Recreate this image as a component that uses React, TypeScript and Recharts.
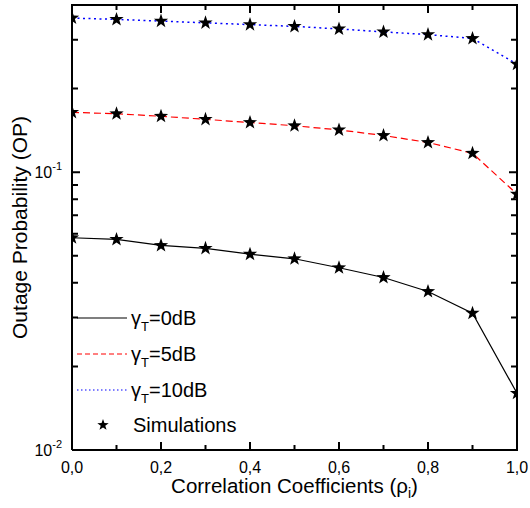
import React from "react";
import { ComposedChart, Line, XAxis, YAxis, Legend } from "recharts";

// correlation coefficient rho_i
const rho = [0, 0.1, 0.2, 0.3, 0.4, 0.5, 0.6, 0.7, 0.8, 0.9, 1.0];

// outage probability per threshold gamma_T
const op0dB = [0.0581, 0.0573, 0.0545, 0.0532, 0.0507, 0.0488, 0.0453, 0.0418, 0.0372, 0.0311, 0.016];
const op5dB = [0.1643, 0.1624, 0.159, 0.155, 0.151, 0.147, 0.142, 0.1356, 0.128, 0.117, 0.0834];
const op10dB = [0.359, 0.355, 0.35, 0.345, 0.34, 0.335, 0.328, 0.32, 0.313, 0.303, 0.245];

const xTicks = [0, 0.1, 0.2, 0.3, 0.4, 0.5, 0.6, 0.7, 0.8, 0.9, 1.0];
const yTicks = [0.01, 0.02, 0.03, 0.04, 0.05, 0.06, 0.07, 0.08, 0.09, 0.1, 0.2, 0.3];
const yMajor = [0.01, 0.1];
const X_MAX = 1;
const Y_MIN = 0.01;
const Y_MAX = 0.4;

const data = rho.map((r, i) => ({ rho: r, a: op0dB[i], b: op5dB[i], c: op10dB[i] }));

// layout
const W = 530;
const H = 508;
const MARGIN = { top: 5, right: 13, bottom: 0, left: 0 };
const Y_AXIS_W = 72;
const X_AXIS_H = 58;
const PLOT_W = W - MARGIN.left - MARGIN.right - Y_AXIS_W;
const PLOT_H = H - MARGIN.top - MARGIN.bottom - X_AXIS_H;

const FONT = '"Liberation Sans", Arial, sans-serif';

const isMajorX = (v: number) => Math.round(v * 10) % 2 === 0;
const isMajorY = (v: number) => yMajor.some((m) => Math.abs(m - v) < 1e-9);
const near = (a: number, b: number) => Math.abs(a - b) < 1e-9;
const fmtX = (v: number) => v.toFixed(1).replace(".", ",");

const seg = (x1: number, y1: number, x2: number, y2: number) => `M${x1},${y1}L${x2},${y2}`;

function starPath(cx: number, cy: number, R: number, r: number) {
  let d = "";
  for (let k = 0; k < 10; k++) {
    const rad = k % 2 === 0 ? R : r;
    const a = -Math.PI / 2 + (k * Math.PI) / 5;
    d += (k === 0 ? "M" : "L") + (cx + rad * Math.cos(a)).toFixed(2) + "," + (cy + rad * Math.sin(a)).toFixed(2);
  }
  return d + "Z";
}

const Star = (props: any) => {
  const { cx, cy } = props;
  if (cx == null || cy == null) return null;
  return <path d={starPath(cx, cy, 7.5, 3)} fill="#000" stroke="none" />;
};

// bottom ticks also draw the mirrored top ticks and, at x max, the right edge of the frame
const BottomTick = (props: any) => {
  const x = Number(props.x);
  const y = Number(props.y);
  const v = props.payload.value;
  const len = isMajorX(v) ? 8 : 5;
  const top = y - PLOT_H;
  let d = seg(x, y, x, y - len) + seg(x, top, x, top + len);
  if (near(v, X_MAX)) d += seg(x, y + 1, x, top - 1);
  return (
    <g>
      <path d={d} stroke="#000" strokeWidth={2} fill="none" />
      {isMajorX(v) && (
        <text x={x} y={y + 23} textAnchor="middle" fontSize={16} fontFamily={FONT} fill="#000">
          {fmtX(v)}
        </text>
      )}
    </g>
  );
};

// left ticks also draw the mirrored right ticks and, at y max, the top edge of the frame
const LeftTick = (props: any) => {
  const x = Number(props.x);
  const y = Number(props.y);
  const v = props.payload.value;
  if (near(v, Y_MAX)) {
    return <path d={seg(x - 1, y, x + PLOT_W + 1, y)} stroke="#000" strokeWidth={2} fill="none" />;
  }
  const major = isMajorY(v);
  const len = major ? 8 : 6;
  const right = x + PLOT_W;
  const exp = Math.round(Math.log10(v));
  return (
    <g>
      <path d={seg(x, y, x + len, y) + seg(right, y, right - len, y)} stroke="#000" strokeWidth={2} fill="none" />
      {major && (
        <text x={x - 10} y={y + 6} textAnchor="end" fontSize={16} fontFamily={FONT} fill="#000">
          10
          <tspan dy={-8} fontSize={11}>
            {String(exp)}
          </tspan>
        </text>
      )}
    </g>
  );
};

const XTitle = ({ viewBox }: any) => (
  <text x={viewBox.x + viewBox.width / 2} y={493} textAnchor="middle" fontSize={20.5} fontFamily={FONT} fill="#000">
    Correlation Coefficients (ρ
    <tspan dy={5} fontSize={14}>i</tspan>
    <tspan dy={-5}>)</tspan>
  </text>
);

// y title; also outlines the plot frame (same box as the axes)
const YTitle = ({ viewBox }: any) => {
  const cy = viewBox.y + viewBox.height / 2;
  const fx = viewBox.x + viewBox.width;
  return (
    <g>
      <path
        d={`M${fx},${viewBox.y}H${fx + PLOT_W}V${viewBox.y + viewBox.height}`}
        stroke="#000"
        strokeWidth={2}
        fill="none"
      />
      <text x={27} y={cy} transform={`rotate(-90 27 ${cy})`} textAnchor="middle" fontSize={21} fontFamily={FONT} fill="#000">
        Outage Probability (OP)
      </text>
    </g>
  );
};

const legendItems = [
  { label: "0dB", color: "#000", dash: undefined as string | undefined },
  { label: "5dB", color: "#ff0000", dash: "5 3" },
  { label: "10dB", color: "#0000ff", dash: "1.5 2.5" },
];

const LegendBox = () => (
  <svg width={190} height={140} style={{ display: "block" }}>
    {legendItems.map((it, i) => {
      const y = 18 + i * 36;
      return (
        <g key={it.label}>
          <line x1={5} x2={55} y1={y} y2={y} stroke={it.color} strokeWidth={1.2} strokeDasharray={it.dash} />
          <text x={59} y={y + 7} fontSize={20} fontFamily={FONT} fill="#000">
            γ
            <tspan dy={6} fontSize={13}>T</tspan>
            <tspan dy={-6}>={it.label}</tspan>
          </text>
        </g>
      );
    })}
    <path d={starPath(31, 125, 6, 2.4)} fill="#000" />
    <text x={61} y={132} fontSize={20} fontFamily={FONT} fill="#000">
      Simulations
    </text>
  </svg>
);

export default function App() {
  return (
    <div style={{ position: "absolute", left: 0, top: 0, background: "#fff" }}>
      <ComposedChart width={W} height={H} data={data} margin={MARGIN}>
        <XAxis
          dataKey="rho"
          type="number"
          domain={[0, X_MAX]}
          ticks={xTicks}
          interval={0}
          allowDataOverflow
          height={X_AXIS_H}
          tickSize={0}
          tickMargin={0}
          tickLine={false}
          axisLine={{ stroke: "#000", strokeWidth: 2 }}
          tick={<BottomTick />}
          label={<XTitle />}
        />
        <YAxis
          scale="log"
          type="number"
          domain={[Y_MIN, Y_MAX]}
          ticks={[...yTicks, Y_MAX]}
          interval={0}
          allowDataOverflow
          width={Y_AXIS_W}
          tickSize={0}
          tickMargin={0}
          tickLine={false}
          axisLine={{ stroke: "#000", strokeWidth: 2 }}
          tick={<LeftTick />}
          label={<YTitle />}
        />
        <Legend
          layout="horizontal"
          verticalAlign="middle"
          align="center"
          content={<LegendBox />}
          wrapperStyle={{ position: "absolute", left: 72, top: 300, width: 190, height: 140 }}
        />
        <Line dataKey="a" type="linear" stroke="#000" strokeWidth={1.2} dot={<Star />} activeDot={false} isAnimationActive={false} />
        <Line dataKey="b" type="linear" stroke="#ff0000" strokeWidth={1.2} strokeDasharray="7 4" dot={<Star />} activeDot={false} isAnimationActive={false} />
        <Line dataKey="c" type="linear" stroke="#0000ff" strokeWidth={1.5} strokeDasharray="2 3.5" dot={<Star />} activeDot={false} isAnimationActive={false} />
      </ComposedChart>
    </div>
  );
}
